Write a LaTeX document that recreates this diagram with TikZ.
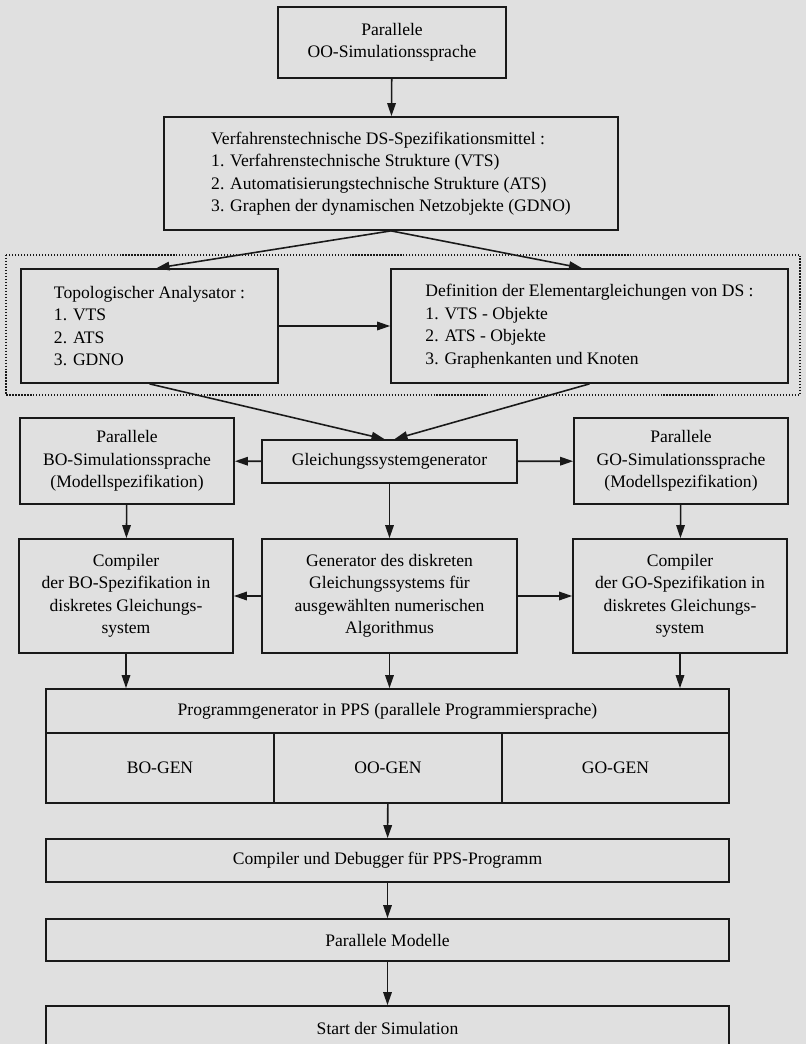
\documentclass[tikz,border=0pt]{standalone}
\usepackage{fontspec}
\setmainfont{Liberation Serif}
\usetikzlibrary{arrows.meta}
\definecolor{paper}{RGB}{224,224,224}
\definecolor{ink}{RGB}{25,25,25}
\tikzset{
  blk/.style={draw=ink,line width=1pt,align=center,inner sep=2pt,font=\fontsize{10}{12.8}\selectfont},
  lst/.style={blk,align=left},
  arr/.style={draw=ink,line width=0.9pt,-{Triangle[length=2.6mm,width=1.7mm]}}
}
\begin{document}
\begin{tikzpicture}[x=0.02cm,y=-0.02cm]
      \useasboundingbox (0,0) rectangle (806,1044);
      \fill[paper] (0,0) rectangle (806,1044);
      % sprache und spezifikation
      \node[blk,minimum width=4.56cm,minimum height=1.42cm] (oosim) at (392,42.5) {Parallele\\OO-Simulationssprache};
      \node[lst,minimum width=9.08cm,minimum height=2.26cm] (dsmittel) at (391,173.5) {Verfahrenstechnische DS-Spezifikationsmittel :\\1. Verfahrenstechnische Strukture (VTS)\\2. Automatisierungstechnische Strukture (ATS)\\3. Graphen der dynamischen Netzobjekte (GDNO)};
      % gestrichelter rahmen
      \draw[ink,densely dotted,line width=0.7pt] (6,255) rectangle (800,395);
      \node[lst,minimum width=5.14cm,minimum height=2.28cm] (topo) at (149.5,326) {Topologischer Analysator :\\1. VTS\\2. ATS\\3. GDNO};
      \node[lst,minimum width=7.94cm,minimum height=2.28cm] (elemgl) at (589.5,326) {Definition der Elementargleichungen von DS :\\1. VTS - Objekte\\2. ATS - Objekte\\3. Graphenkanten und Knoten};
      % generatoren
      \node[blk,minimum width=4.28cm,minimum height=1.72cm] (bosim) at (127,461) {Parallele\\BO-Simulationssprache\\(Modellspezifikation)};
      \node[blk,minimum width=5.10cm,minimum height=0.86cm] (gsgen) at (389.5,461.5) {Gleichungssystemgenerator};
      \node[blk,minimum width=4.28cm,minimum height=1.72cm] (gosim) at (681,461) {Parallele\\GO-Simulationssprache\\(Modellspezifikation)};
      \node[blk,minimum width=4.28cm,minimum height=2.28cm] (bocomp) at (126,596) {Compiler\\der BO-Spezifikation in\\diskretes Gleichungs-\\system};
      \node[blk,minimum width=5.10cm,minimum height=2.28cm] (diskgen) at (389.5,596) {Generator des diskreten\\Gleichungssystems für\\ausgewählten numerischen\\Algorithmus};
      \node[blk,minimum width=4.28cm,minimum height=2.28cm] (gocomp) at (680,596) {Compiler\\der GO-Spezifikation in\\diskretes Gleichungs-\\system};
      % programmgenerator
      \node[blk,minimum width=13.66cm,minimum height=0.88cm] (ppsgen) at (387.5,711) {Programmgenerator in PPS (parallele Programmiersprache)};
      \node[blk,minimum width=4.56cm,minimum height=1.40cm] (bogen) at (160,768) {BO-GEN};
      \node[blk,minimum width=4.56cm,minimum height=1.40cm] (oogen) at (388,768) {OO-GEN};
      \node[blk,minimum width=4.54cm,minimum height=1.40cm] (gogen) at (615.5,768) {GO-GEN};
      \node[blk,minimum width=13.66cm,minimum height=0.86cm] (ppscomp) at (387.5,860.5) {Compiler und Debugger für PPS-Programm};
      \node[blk,minimum width=13.66cm,minimum height=0.84cm] (parmod) at (387.5,940) {Parallele Modelle};
      \node[blk,minimum width=13.66cm,minimum height=0.88cm] (start) at (387.5,1028) {Start der Simulation};
      % pfeile
      \draw[arr] (oosim) -- (dsmittel);
      \draw[arr] (dsmittel.south) -- ([xshift=0.14cm]topo.north);
      \draw[arr] (dsmittel.south) -- ([xshift=-0.15cm]elemgl.north);
      \draw[arr] (topo) -- (elemgl);
      \draw[arr] (topo.south) -- ([xshift=-0.1cm]gsgen.north);
      \draw[arr] (elemgl.south) -- ([xshift=0.1cm]gsgen.north);
      \draw[arr] (gsgen) -- (bosim);
      \draw[arr] (gsgen) -- (gosim);
      \draw[arr] (bosim) -- (bocomp);
      \draw[arr] (gsgen) -- (diskgen);
      \draw[arr] (gosim) -- (gocomp);
      \draw[arr] (diskgen) -- (bocomp);
      \draw[arr] (diskgen) -- (gocomp);
      \draw[arr] (bocomp.south) -- (bocomp.south |- ppsgen.north);
      \draw[arr] (diskgen.south) -- (diskgen.south |- ppsgen.north);
      \draw[arr] (gocomp.south) -- (gocomp.south |- ppsgen.north);
      \draw[arr] (oogen) -- (ppscomp);
      \draw[arr] (ppscomp) -- (parmod);
      \draw[arr] (parmod) -- (start);
\end{tikzpicture}
\end{document}
